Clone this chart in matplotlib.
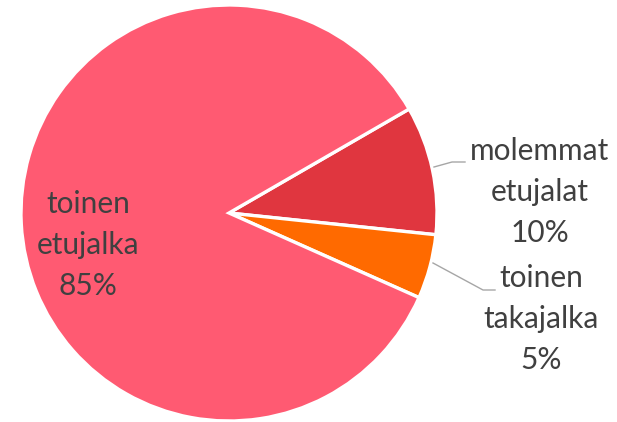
import matplotlib
matplotlib.use("Agg")
import matplotlib.pyplot as plt

# slices in clockwise order starting from the upper boundary of "molemmat etujalat"
CATEGORIES = ["molemmat\netujalat", "toinen\ntakajalka", "toinen\netujalka"]
SHARES = [10, 5, 85]
COLORS = ["#E0363F", "#FF6A00", "#FF5A72"]

TEXT_COLOR = "#404040"
LEADER_COLOR = "#A6A6A6"

W, H = 617, 422
CX, CY, R = 229, 213, 208  # pie centre / radius in pixels


def to_data(px, py):
    return (px - CX) / R, (CY - py) / R


fig = plt.figure(figsize=(W / 100, H / 100), dpi=100)
ax = fig.add_axes([(CX - R) / W, (H - CY - R) / H, 2 * R / W, 2 * R / H])

wedges, _ = ax.pie(
    SHARES,
    colors=COLORS,
    startangle=30,
    counterclock=False,
    radius=1.0,
    wedgeprops={"edgecolor": "white", "linewidth": 2.4},
)
ax.set_xlim(-1, 1)
ax.set_ylim(-1, 1)
ax.set_aspect("equal")
ax.axis("off")

font = {"family": ["Lato", "DejaVu Sans"], "size": 21.5, "color": TEXT_COLOR}
labels = [f"{c}\n{s}%" for c, s in zip(CATEGORIES, SHARES)]

# inside label for the big slice
ax.text(*to_data(88, 245), labels[2], ha="center", va="center",
        linespacing=1.55, **font)

# outside labels with leader lines
leaders = [
    ([(434, 167), (452, 162), (465, 162)], (540, 192), labels[0]),
    ([(433, 263), (483, 290), (495, 290)], (541, 319), labels[1]),
]
for pts, text_pos, text in leaders:
    xs, ys = zip(*[to_data(px, py) for px, py in pts])
    ax.plot(xs, ys, color=LEADER_COLOR, linewidth=1.0, clip_on=False)
    ax.text(*to_data(*text_pos), text, ha="center", va="center",
            linespacing=1.55, clip_on=False, **font)

fig.savefig("out.png", dpi=100)
